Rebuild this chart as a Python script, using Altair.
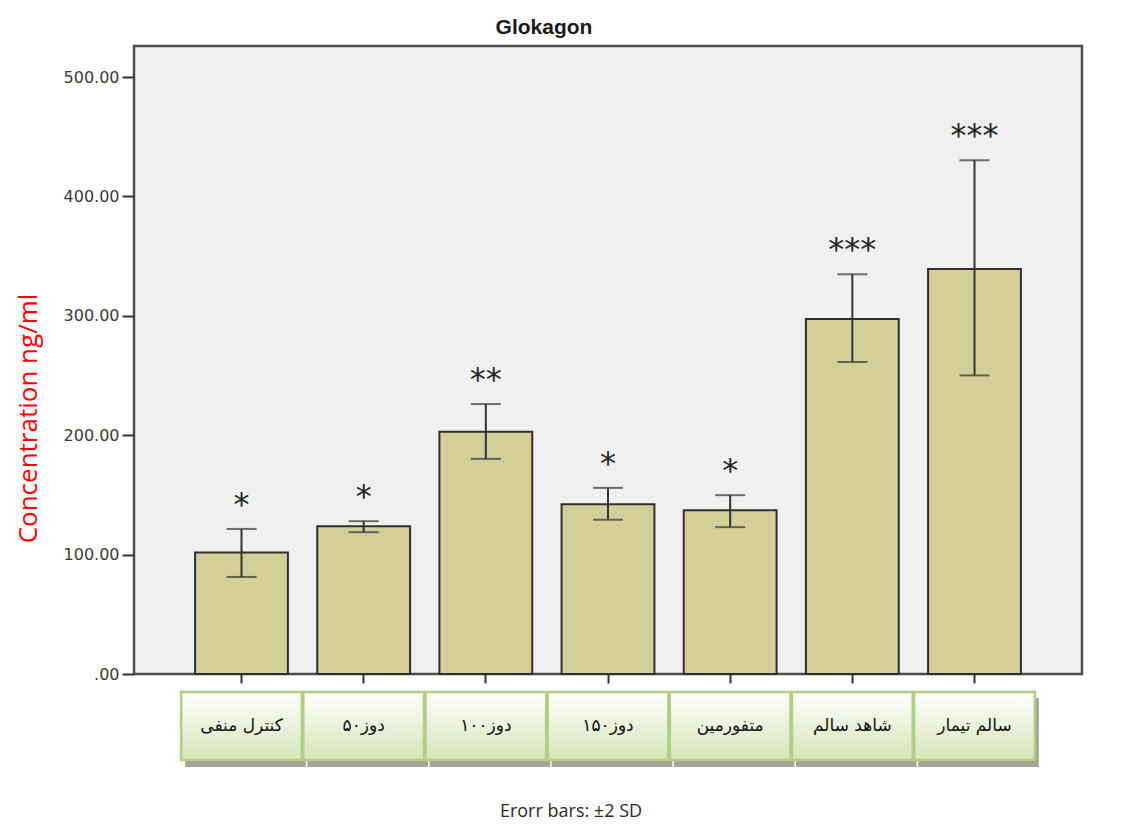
import altair as alt
import pandas as pd

categories = ["کنترل منفی", "دوز۵۰", "دوز۱۰۰", "دوز۱۵۰", "متفورمین", "شاهد سالم", "سالم تیمار"]
means = [101.8, 123.8, 202.8, 142.2, 137.2, 297.3, 339.2]
upper = [121.5, 128.0, 226.1, 155.9, 149.8, 334.8, 430.3]
lower = [81.3, 118.8, 180.2, 129.2, 123.0, 261.3, 250.1]
stars = ["*", "*", "**", "*", "*", "***", "***"]
y_ticks = [0, 100, 200, 300, 400, 500]
footer = ["Erorr bars: ±2 SD"]

df = pd.DataFrame({"group": categories, "mean": means, "upper": upper,
                   "lower": lower, "star": stars})

x = alt.X("group:N", sort=categories,
          scale=alt.Scale(paddingInner=0.24, paddingOuter=0.5),
          axis=alt.Axis(title=None, labelAngle=0, labelFont="DejaVu Sans",
                        labelFontSize=17, labelColor="#111111", labelPadding=42,
                        labelBaseline="middle", tickSize=9, tickColor="#333333",
                        tickWidth=2, domain=False, zindex=1))

y_scale = alt.Scale(domain=[0, 526], nice=False)
y = alt.Y("mean:Q", scale=y_scale,
          axis=alt.Axis(values=y_ticks,
                        labelExpr="datum.value == 0 ? '.00' : format(datum.value, '.2f')",
                        labelFont="DejaVu Sans", labelFontSize=16, labelColor="#3a3a3a",
                        labelPadding=3, tickSize=12, tickColor="#333333", tickWidth=2,
                        domain=False, grid=False,
                        title="Concentration ng/ml", titleColor="#ff0000",
                        titleFont="Open Sans", titleFontSize=26, titleFontWeight="normal",
                        titleAngle=270, titleX=-98, titleY=372, titleAlign="center",
                        titleBaseline="alphabetic"))

base = alt.Chart(df)

gradient = alt.LinearGradient(
    gradient="linear",
    stops=[alt.GradientStop(color="#ffffff", offset=0),
           alt.GradientStop(color="#d6e5b8", offset=1)],
    x1=0, x2=0, y1=0, y2=1)

shadow = base.mark_bar(width=alt.RelativeBandSize(1.3), color="#a3a59a",
                       xOffset=4).encode(x=x, y=alt.value(652), y2=alt.value(721))
boxes = base.mark_bar(width=alt.RelativeBandSize(1.3), fill=gradient,
                      stroke="#b0cf82", strokeWidth=2.5).encode(
    x=x, y=alt.value(646), y2=alt.value(714))

bars = base.mark_bar(fill="#d4cf98", stroke="#2f2f2f", strokeWidth=2).encode(x=x, y=y)
rules = base.mark_rule(color="#333333", strokeWidth=2).encode(
    x=x, y=alt.Y("lower:Q", scale=y_scale), y2="upper:Q")
cap_top = base.mark_tick(size=30, thickness=2, color="#333333").encode(
    x=x, y=alt.Y("upper:Q", scale=y_scale))
cap_bot = base.mark_tick(size=30, thickness=2, color="#333333").encode(
    x=x, y=alt.Y("lower:Q", scale=y_scale))
star_text = base.mark_text(font="DejaVu Sans", fontSize=32, baseline="alphabetic",
                           dy=-14, color="#222222").encode(
    x=x, y=alt.Y("upper:Q", scale=y_scale), text="star:N")

foot = alt.Chart(pd.DataFrame({"t": footer})).mark_text(
    font="Open Sans", fontSize=18, color="#2a2a2a", align="center",
    baseline="middle").encode(x=alt.value(437), y=alt.value(766), text="t:N")

chart = alt.layer(shadow, boxes, bars, rules, cap_top, cap_bot, star_text, foot).properties(
    width=948, height=628,
    autosize=alt.AutoSizeParams(type="none"),
    padding={"left": 126, "top": 38, "right": 46, "bottom": 155},
    title=alt.TitleParams("Glokagon", font="Liberation Sans", fontSize=21,
                          fontWeight="bold", color="#1a1a1a", dx=-64, offset=8,
                          anchor="middle"),
).configure(
    background="#ffffff",
    view=alt.ViewConfig(fill="#f0f0f0", stroke="#4d4d4d", strokeWidth=2.5),
)

chart.save("out.html", embed_options={"renderer": "svg", "actions": False})
